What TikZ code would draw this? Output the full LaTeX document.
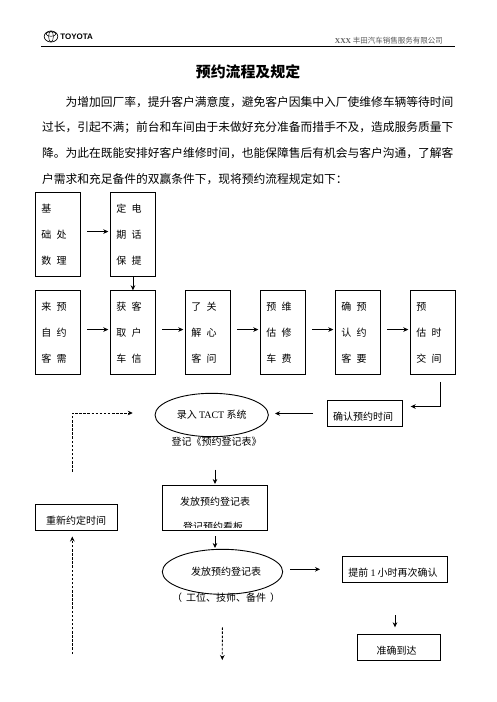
\documentclass[tikz,border=0pt]{standalone}
\usepackage{fontspec}
\usepackage{tikz}
\usetikzlibrary{calc,shapes.geometric,arrows.meta}
\setmainfont{Noto Sans CJK SC}
\newfontfamily\latinfont{Liberation Serif}
\newfontfamily\logofont{Liberation Sans}
\newcommand{\gap}{\hspace{5.4pt}}
\tikzset{
	stepbox/.style={draw,line width=0.9pt,outer sep=0pt,inner xsep=6pt,inner ysep=0pt,anchor=north west,
		text width=33.3pt,minimum height=84.5pt,align=left,font=\fontsize{10}{26}\selectfont},
	flatbox/.style={draw,line width=0.9pt,outer sep=0pt,inner sep=0pt,font=\fontsize{10}{12}\selectfont},
	flatoval/.style={flatbox,ellipse},
	plaintext/.style={inner sep=0pt,font=\fontsize{10}{12}\selectfont},
	flow/.style={line width=0.8pt,-{Stealth[length=5pt,width=4.6pt]}},
	backflow/.style={flow,dash pattern=on 2.5pt off 1.6pt}
}

\begin{document}
\begin{tikzpicture}[x=1pt,y=-1pt]
	\useasboundingbox (0,0) rectangle (496,702);
	% page head
	\draw[line width=0.7pt] (51,36.5) ellipse[x radius=6.8pt,y radius=5.5pt];
	\draw[line width=0.5pt] (51,36.5) ellipse[x radius=2.4pt,y radius=5.5pt];
	\draw[line width=0.5pt] (51,34) ellipse[x radius=5pt,y radius=2.3pt];
	\node[inner sep=0pt,font=\logofont\bfseries\fontsize{8}{10}\selectfont] (brand) at (76.7,37) {TOYOTA};
	\node[inner sep=0pt,anchor=east,black!65,font=\fontsize{7.5}{9}\selectfont] (dealer) at (443,40.5) {{\latinfont\bfseries XXX} 丰田汽车销售服务有限公司};
	\coordinate (headleft) at (41,46.3);
	\coordinate (headright) at (455,46.3);
	\draw[line width=0.9pt] (headleft) -- (headright);
	% title and paragraph
	\node[inner sep=0pt,font=\bfseries\fontsize{14.9}{18}\selectfont] (title) at (248,71.5) {预约流程及规定};
	\node[inner sep=0pt,anchor=north west,align=left,font=\fontsize{11.75}{25.7}\selectfont] (intro) at (42,96) {\hspace{23.5pt}为增加回厂率，提升客户满意度，避免客户因集中入厂使维修车辆等待时间\\
		过长，引起不满；前台和车间由于未做好充分准备而措手不及，造成服务质量下\\
		降。为此在既能安排好客户维修时间，也能保障售后有机会与客户沟通，了解客\\
		户需求和充足备件的双赢条件下，现将预约流程规定如下：};
	% first row
	\node[stepbox] (basic) at (35.3,192.3) {基\\础\gap 处\\数\gap 理};
	\node[stepbox] (remindcall) at (110.3,192.3) {定\gap 电\\期\gap 话\\保\gap 提};
	% second row
	\foreach \name/\x/\txt in {
		incoming/35.3/{来\gap 预\\自\gap 约\\客\gap 需},
		getinfo/110.3/{获\gap 客\\取\gap 户\\车\gap 信},
		asking/185.3/{了\gap 关\\解\gap 心\\客\gap 问},
		costing/260.3/{预\gap 维\\估\gap 修\\车\gap 费},
		checking/335.3/{确\gap 预\\认\gap 约\\客\gap 要},
		handover/410.3/{预\\估\gap 时\\交\gap 间}}
		\node[stepbox] (\name) at (\x,290.3) {\txt};
	\foreach \a/\b in {incoming/getinfo,getinfo/asking,asking/costing,costing/checking,checking/handover,basic/remindcall}
		\draw[flow,shorten <=6.6pt,shorten >=2pt] ([yshift=3pt]\a.east) -- ([yshift=3pt]\b.west);
	\draw[flow] (remindcall.south) -- (getinfo.north);
	% lower part
	\node[flatoval,minimum width=113.3pt,minimum height=43.4pt] (entry) at (211.7,415) {录入 {\latinfont TACT} 系统};
	\node[flatbox,minimum width=75pt,minimum height=26.4pt] (confirm) at (364.8,413.5) {};
	\node[plaintext] (confirmtext) at (363,416.7) {确认预约时间};
	\node[plaintext] (regnote) at (216.7,441.7) {登记《预约登记表》};
	\node[flatbox,minimum width=105.4pt,minimum height=45.4pt] (sheet) at (215,508) {};
	\node[plaintext] (sheettext) at (215,501.7) {发放预约登记表};
	\begin{scope}
		\clip (sheet.north west) rectangle ([yshift=3pt]sheet.south east);
		\node[plaintext] (boardtext) at (213,526.8) {登记预约看板};
	\end{scope}
	\node[flatbox,minimum width=82.4pt,minimum height=26.2pt] (retime) at (76.5,517.4) {};
	\node[plaintext] (retimetext) at (76,520.7) {重新约定时间};
	\node[flatoval,minimum width=120.4pt,minimum height=45pt] (issue) at (222.5,571.8) {};
	\node[plaintext] (issuetext) at (226,571.7) {发放预约登记表};
	\node[plaintext] (partsnote) at (226,597.7) {（\hspace{4pt}工位、技师、备件\hspace{4pt}）};
	\node[flatbox,minimum width=105.4pt,minimum height=26pt] (ahead) at (395,569.3) {};
	\node[plaintext] (aheadtext) at (393,572.7) {提前 {\latinfont 1} 小时再次确认};
	\node[flatbox,minimum width=83.4pt,minimum height=26.4pt] (arrive) at (399,647.5) {};
	\node[plaintext] (arrivetext) at (396.7,650.7) {准确到达};
	% free ends
	\coordinate (retimefoot) at (72.3,654);
	\coordinate (issuefoot) at (222.3,660);
	% connectors
	\draw[flow,shorten <=7pt,shorten >=8.4pt] ([xshift=7.8pt]handover.south) |- ([yshift=7pt]confirm.east);
	\draw[flow,shorten <=14.3pt,shorten >=6.7pt] (confirm.west) -- (confirm.west -| entry.east);
	\draw[backflow,shorten <=32.6pt,shorten >=22.3pt] ([xshift=-4.2pt]retime.north) |- ([yshift=2pt]entry.west);
	\draw[flow,shorten <=23pt,shorten >=1.3pt] (sheet.north |- regnote.south) -- (sheet.north);
	\draw[flow,shorten <=5.3pt,shorten >=1.3pt] (sheet.south) -- (sheet.south |- issue.north);
	\draw[flow,shorten <=7.3pt,shorten >=22.3pt] (ahead.west -| issue.east) -- (ahead.west);
	\draw[flow,shorten <=32.7pt,shorten >=7pt] (ahead.south) -- (ahead.south |- arrive.north);
	\draw[backflow,shorten >=6pt] (retimefoot) -- (retimefoot |- retime.south);
	\draw[backflow,shorten <=33pt] (issue.south) -- (issuefoot);
\end{tikzpicture}
\end{document}
